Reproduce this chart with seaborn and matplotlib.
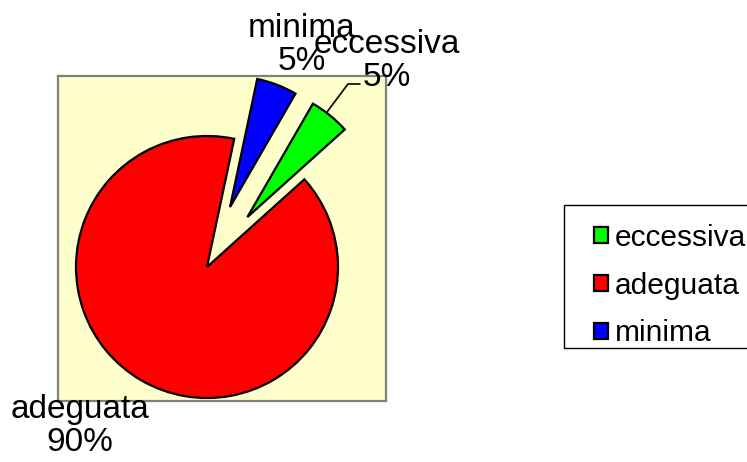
import matplotlib
matplotlib.use("Agg")
import matplotlib.pyplot as plt
from matplotlib.patches import Rectangle
import seaborn as sns

categories = ["eccessiva", "adeguata", "minima"]
percentages = [5, 90, 5]
slice_colors = ["#00FF00", "#FF0000", "#0000FF"]

sns.set_theme(style="white")
plt.rcParams['font.family'] = ['Liberation Sans', 'DejaVu Sans']
plt.rcParams['text.color'] = 'black'

W, H = 747, 462
fig = plt.figure(figsize=(W / 100, H / 100), dpi=100)
fig.patch.set_facecolor("white")
left, top, right, bottom = 58, 76, 386, 401
ax = fig.add_axes([left / W, 1 - bottom / H, (right - left) / W, (bottom - top) / H])
ax.set_facecolor("#FFFFCC")

R = 131
wedges, _ = ax.pie(
    percentages,
    explode=[0.49 * R, 0, 0.49 * R],
    colors=slice_colors,
    startangle=60,
    counterclock=False,
    center=(207, H - 267),
    radius=R,
    wedgeprops=dict(edgecolor="black", linewidth=1.6),
    frame=True,
)
ax.set_xlim(left, right)
ax.set_ylim(H - bottom, H - top)
ax.set_xticks([])
ax.set_yticks([])
for s in ax.spines.values():
    s.set_color("#808080")
    s.set_linewidth(1.6)

fs = 24
label_pos = {"minima": (302, H - 45), "eccessiva": (387, H - 61), "adeguata": (80, H - 426)}
for cat, pct in zip(categories[::-1], percentages[::-1]):
    x, y = label_pos[cat]
    ax.text(x, y, f"{cat}\n{pct}%", ha="center", va="center", fontsize=fs,
            linespacing=1.12, color="black", clip_on=False, zorder=5)

ax.plot([327, 348, 360], [H - 112, H - 84, H - 84], color="black", lw=1.2,
        clip_on=False, zorder=4)

# legend frame
fig.patches.append(Rectangle((564 / W, 1 - 348 / H), (760 - 564) / W, (348 - 205) / H,
                             transform=fig.transFigure, facecolor="white",
                             edgecolor="black", linewidth=1.0, zorder=1))
leg = fig.legend(wedges, categories, loc="upper left",
                 bbox_to_anchor=(588 / W, 1 - 218 / H), bbox_transform=fig.transFigure,
                 fontsize=21.5, frameon=False,
                 handlelength=0.46, handleheight=0.46, handletextpad=0.25,
                 labelspacing=0.66, borderpad=0.2, borderaxespad=0)
for t in leg.get_texts():
    t.set_color("black")

fig.savefig("out.png", dpi=100)
